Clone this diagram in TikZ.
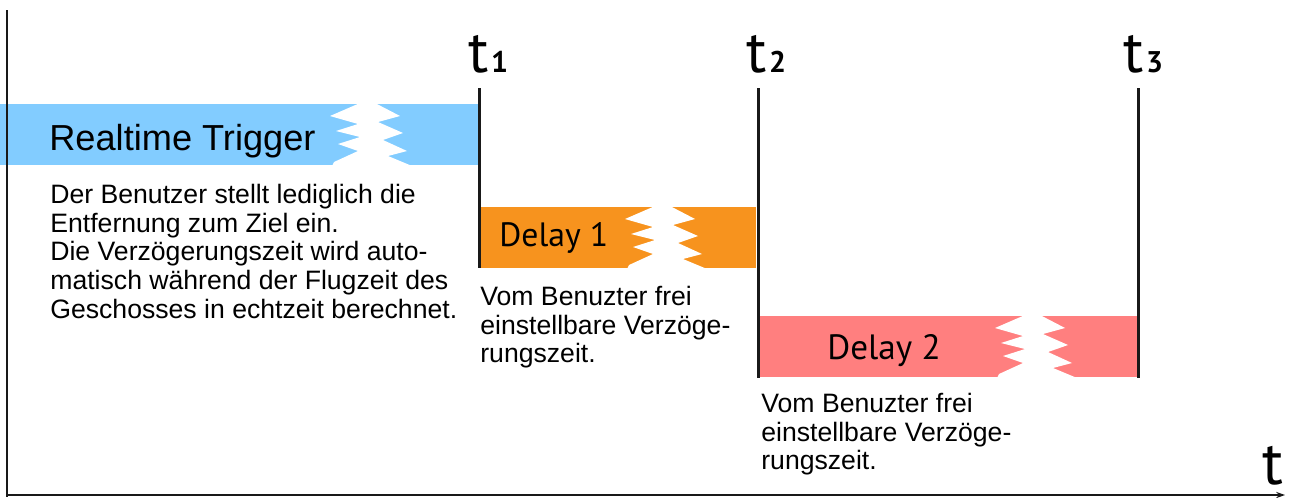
\documentclass[tikz,border=0pt]{standalone}
\usepackage{fontspec}
\setmainfont{Liberation Sans}
\newfontfamily\myr{PT Sans}
\usetikzlibrary{arrows.meta}
\definecolor{rtblue}{RGB}{130,204,255}
\definecolor{dorange}{RGB}{247,147,30}
\definecolor{dred}{RGB}{255,127,127}
\begin{document}
\begin{tikzpicture}[x=0.02cm,y=-0.02cm,
  gap/.pic={\fill[white] (30,-1) -- (0,12) -- (28,20) -- (6,27) -- (30,33) -- (8,40) -- (28,47) -- (4,58) -- (2,62)
     -- (82,62) -- (58,52) -- (77,47) -- (53,36) -- (73,29) -- (48,18) -- (70,12) -- (45,-1) -- cycle;},
  tline/.style={line width=1.7pt, black!90},
  desc/.style={inner sep=0pt, anchor=north west, align=left, font=\fontsize{15.15}{16.3}\selectfont},
  barlabel/.style={inner sep=0pt, anchor=base west},
  tlab/.style={inner sep=0pt, anchor=base west, font=\myr\fontsize{34}{34}\selectfont},
  sub/.style={inner sep=0pt, anchor=base west, font=\myr\bfseries\fontsize{17}{17}\selectfont}]
\useasboundingbox (0,0) rectangle (1293,497);
% bars
\fill[rtblue] (0,104) rectangle (478,165);
\fill[dorange] (479,207) rectangle (756,268);
\fill[dred] (760,316) rectangle (1137,377);
\pic (g1) at (330,104) {gap};
\pic (g2) at (625,207) {gap};
\pic (g3) at (995,316) {gap};
% time lines
\coordinate (t1a) at (479,88); \coordinate (t1b) at (479,268);
\coordinate (t2a) at (758,88); \coordinate (t2b) at (758,378);
\coordinate (t3a) at (1138,88); \coordinate (t3b) at (1138,378);
\draw[tline] (t1a) -- (t1b);
\draw[tline] (t2a) -- (t2b);
\draw[tline] (t3a) -- (t3b);
% axes
\coordinate (ytop) at (7,10);
\coordinate (orig) at (7,497);
\coordinate (xo) at (7,495);
\coordinate (xend) at (1285,495);
\draw[line width=1.7pt, black!90] (ytop) -- (orig);
\draw[line width=1.1pt, black!90, -{Stealth[length=5pt,width=3.5pt]}] (xo) -- (xend);
% t labels
\node[tlab] (lt1) at (468,72) {t};
\node[sub] (s1) at ([xshift=1pt]lt1.base east) {1};
\node[tlab] (lt2) at (746,72) {t};
\node[sub] (s2) at ([xshift=1pt]lt2.base east) {2};
\node[tlab] (lt3) at (1123,72) {t};
\node[sub] (s3) at ([xshift=1pt]lt3.base east) {3};
\node[tlab, font=\myr\fontsize{35}{35}\selectfont] (tax) at (1262,484) {t};
% bar labels
\node[barlabel, font=\fontsize{20.6}{20.6}\selectfont] (rt) at (49,150) {Realtime Trigger};
\node[barlabel, font=\myr\fontsize{19.2}{19.2}\selectfont] (d1) at (499,246) {Delay 1};
\node[barlabel, font=\myr\fontsize{20}{20}\selectfont] (d2) at (827,359) {Delay 2};
% descriptions
\node[desc] (desc1) at (50,184) {Der Benutzer stellt lediglich die\\Entfernung zum Ziel ein.\\Die Verzögerungszeit wird auto-\\matisch während der Flugzeit des\\Geschosses in echtzeit berechnet.};
\node[desc] (desc2) at (480,286) {Vom Benuzter frei\\einstellbare Verzöge-\\rungszeit.};
\node[desc] (desc3) at (761,393) {Vom Benuzter frei\\einstellbare Verzöge-\\rungszeit.};
\end{tikzpicture}
\end{document}
